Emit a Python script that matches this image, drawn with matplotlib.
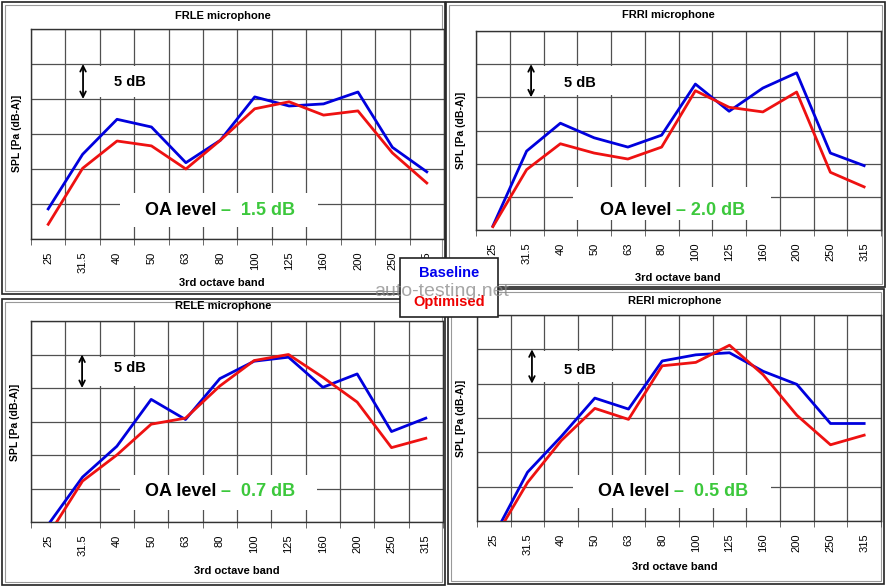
import matplotlib
matplotlib.use('Agg')
import matplotlib.pyplot as plt
from matplotlib.patches import Rectangle

plt.rcParams['font.family'] = ['Liberation Sans', 'DejaVu Sans']

bands = ['25', '31.5', '40', '50', '63', '80', '100', '125', '160', '200', '250', '315']

# relative SPL in dB (grid step = 5 dB)
frle_base = [4.3, 12.1, 17.1, 16.0, 10.9, 14.1, 20.3, 19.0, 19.3, 21.0, 13.1, 9.6]
frle_opt = [2.1, 10.1, 14.0, 13.3, 10.0, 14.1, 18.6, 19.6, 17.7, 18.3, 12.3, 8.0]
frri_base = [0.6, 11.9, 16.1, 13.9, 12.5, 14.3, 22.0, 17.9, 21.4, 23.7, 11.6, 9.7]
frri_opt = [0.5, 9.1, 13.0, 11.6, 10.7, 12.5, 21.0, 18.5, 17.8, 20.8, 8.7, 6.5]
rele_base = [-0.4, 6.7, 11.3, 18.3, 15.3, 21.4, 24.0, 24.6, 20.1, 22.1, 13.5, 15.5]
rele_opt = [-2.0, 6.1, 10.0, 14.6, 15.5, 20.3, 24.1, 25.0, 21.6, 17.9, 11.1, 12.5]
reri_base = [-2.2, 7.1, 12.3, 17.9, 16.3, 23.3, 24.2, 24.5, 21.8, 19.9, 14.2, 14.2]
reri_opt = [-2.7, 5.6, 11.7, 16.4, 14.8, 22.6, 23.1, 25.6, 21.3, 15.4, 11.1, 12.5]

titles = ['FRLE microphone', 'FRRI microphone', 'RELE microphone', 'RERI microphone']
oa_values = ['–  1.5 dB', '– 2.0 dB', '–  0.7 dB', '–  0.5 dB']

W, H = 887, 587
BLUE = '#0000dd'
RED = '#ee1111'
GREEN = '#3cc83c'
GRID = '#505050'


def fx(x):
    return x / W


def fy(y):
    return 1 - y / H


fig = plt.figure(figsize=(W / 100, H / 100), dpi=100)

# panel layout in pixels
panels = [
    dict(frame=(2, 2, 445, 294), ax=(31, 29, 444, 239), title=(223, 16), ylab=(17, 133), xlab=(222, 283),
         arrow_x=0.126, txt=(0.24, 0.75), wbox=(0.143, 0.332), oa_box=(0.215, 0.695, 0.057, 0.219),
         oa=(0.452, 0.138), base=frle_base, opt=frle_opt),
    dict(frame=(446, 2, 885, 287), ax=(476, 31, 881, 230), title=(668, 15), ylab=(461, 130), xlab=(678, 278),
         arrow_x=0.136, txt=(0.257, 0.74), wbox=(0.158, 0.38), oa_box=(0.24, 0.728, 0.05, 0.216),
         oa=(0.486, 0.10), base=frri_base, opt=frri_opt),
    dict(frame=(2, 299, 445, 585), ax=(31, 321, 443, 522), title=(223, 306), ylab=(15, 422), xlab=(237, 571),
         arrow_x=0.124, txt=(0.24, 0.766), wbox=(0.143, 0.332), oa_box=(0.215, 0.695, 0.06, 0.234),
         oa=(0.454, 0.15), base=rele_base, opt=rele_opt),
    dict(frame=(448, 289, 884, 584), ax=(477, 315, 881, 521), title=(675, 301), ylab=(461, 418), xlab=(675, 567),
         arrow_x=0.136, txt=(0.255, 0.733), wbox=(0.158, 0.38), oa_box=(0.238, 0.728, 0.063, 0.223),
         oa=(0.48, 0.141), base=reri_base, opt=reri_opt),
]

x = list(range(len(bands)))

for i, p in enumerate(panels):
    x0, y0, x1, y1 = p['frame']
    fig.add_artist(Rectangle((fx(x0), fy(y1)), fx(x1 - x0), (y1 - y0) / H, transform=fig.transFigure,
                             facecolor='none', edgecolor='#222222', lw=1.2, zorder=-1))
    fig.add_artist(Rectangle((fx(x0 + 3), fy(y1 - 3)), fx(x1 - x0 - 6), (y1 - y0 - 6) / H,
                             transform=fig.transFigure, facecolor='none', edgecolor='#999999', lw=0.8, zorder=-1))

    a0, b0, a1, b1 = p['ax']
    ax = fig.add_axes([fx(a0), fy(b1), fx(a1 - a0), (b1 - b0) / H])
    ax.plot(x, p['base'], color=BLUE, lw=2.0, zorder=3)
    ax.plot(x, p['opt'], color=RED, lw=2.0, zorder=3)
    ax.set_xlim(-0.5, 11.5)
    ax.set_ylim(0, 30)
    ax.set_xticks(x)
    ax.set_xticklabels(bands, rotation=90, fontsize=8)
    ax.set_xticks([v - 0.5 for v in range(13)], minor=True)
    ax.set_yticks(range(0, 31, 5))
    ax.set_yticklabels([])
    ax.tick_params(axis='x', which='major', length=0, pad=9)
    ax.tick_params(axis='x', which='minor', length=4, color=GRID, direction='out')
    ax.tick_params(axis='y', length=0)
    ax.grid(True, which='minor', axis='x', color=GRID, lw=0.9)
    ax.grid(True, which='major', axis='y', color=GRID, lw=0.9)
    ax.set_axisbelow(True)
    for s in ax.spines.values():
        s.set_color('#333333')
        s.set_linewidth(1.0)

    # 5 dB marker
    ax.add_patch(Rectangle((p['wbox'][0], 4 / 6 + 0.01), p['wbox'][1] - p['wbox'][0], 1 / 6 - 0.02,
                           transform=ax.transAxes, facecolor='white', edgecolor='none', zorder=1.5))
    ax.annotate('', xy=(p['arrow_x'], 5 / 6), xytext=(p['arrow_x'], 4 / 6),
                xycoords='axes fraction', textcoords='axes fraction',
                arrowprops=dict(arrowstyle='<->', color='black', lw=1.3, shrinkA=0, shrinkB=0), zorder=4)
    ax.text(p['txt'][0], p['txt'][1], '5 dB', transform=ax.transAxes, fontsize=10.5, fontweight='bold',
            ha='center', va='center', zorder=4)

    # OA level text
    bx0, bx1, by0, by1 = p['oa_box']
    ax.add_patch(Rectangle((bx0, by0), bx1 - bx0, by1 - by0, transform=ax.transAxes,
                           facecolor='white', edgecolor='none', zorder=1.5))
    ax.text(p['oa'][0] - 0.004, p['oa'][1], 'OA level', transform=ax.transAxes, fontsize=13,
            fontweight='bold', ha='right', va='center', zorder=4)
    ax.text(p['oa'][0] + 0.008, p['oa'][1], oa_values[i], transform=ax.transAxes, fontsize=13,
            fontweight='bold', color=GREEN, ha='left', va='center', zorder=4)

    fig.text(fx(p['title'][0]), fy(p['title'][1]), titles[i], fontsize=8, fontweight='bold',
             ha='center', va='center')
    fig.text(fx(p['ylab'][0]), fy(p['ylab'][1]), 'SPL [Pa (dB-A)]', fontsize=7.5, fontweight='bold',
             rotation=90, ha='center', va='center')
    fig.text(fx(p['xlab'][0]), fy(p['xlab'][1]), '3rd octave band', fontsize=8, fontweight='bold',
             ha='center', va='center')

# shared legend box in the middle
fig.add_artist(Rectangle((fx(400), fy(317)), fx(98), 59 / H, transform=fig.transFigure,
                         facecolor='white', edgecolor='#222222', lw=1.2, zorder=10))
fig.text(fx(449), fy(273), 'Baseline', color='#0000ee', fontsize=10.5, fontweight='bold',
         ha='center', va='center', zorder=11)
fig.text(fx(449), fy(302), 'Optimised', color='#ee0000', fontsize=10.5, fontweight='bold',
         ha='center', va='center', zorder=11)
fig.text(fx(442), fy(292), 'auto-testing.net', color='#888888', alpha=0.75, fontsize=14,
         ha='center', va='center', zorder=12)

fig.savefig('out.png', dpi=100)
